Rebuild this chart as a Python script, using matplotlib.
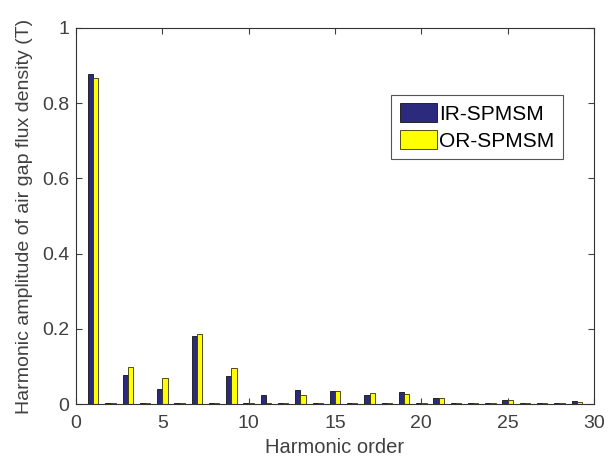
import matplotlib.pyplot as plt
import numpy as np

plt.rcParams['font.family'] = ['Liberation Sans', 'DejaVu Sans']

harmonics = np.arange(1, 30)
ir_spmsm = [0.878, 0.002, 0.076, 0.002, 0.040, 0.002, 0.180, 0.002, 0.075, 0.003,
            0.024, 0.002, 0.038, 0.002, 0.035, 0.002, 0.025, 0.002, 0.032, 0.003,
            0.016, 0.002, 0.003, 0.002, 0.010, 0.002, 0.004, 0.002, 0.007]
or_spmsm = [0.867, 0.002, 0.099, 0.002, 0.069, 0.002, 0.185, 0.002, 0.096, 0.002,
            0.004, 0.002, 0.024, 0.002, 0.035, 0.002, 0.028, 0.002, 0.026, 0.002,
            0.016, 0.002, 0.002, 0.002, 0.011, 0.002, 0.004, 0.002, 0.006]

fig = plt.figure(figsize=(6.08, 4.72), dpi=100)
ax = fig.add_axes([0.125, 0.144, 0.852, 0.797])

w = 0.3
ax.bar(harmonics - w / 2, ir_spmsm, width=w, color='#2b2a7c', edgecolor='#111111',
       linewidth=0.6, label='IR-SPMSM')
ax.bar(harmonics + w / 2, or_spmsm, width=w, color='#ffff00', edgecolor='#333300',
       linewidth=0.6, label='OR-SPMSM')

ax.set_xlim(0, 30)
ax.set_ylim(0, 1)
ax.set_xticks([0, 5, 10, 15, 20, 25, 30])
ax.set_yticks([0, 0.2, 0.4, 0.6, 0.8, 1])
ax.set_yticklabels(['0', '0.2', '0.4', '0.6', '0.8', '1'])
ax.tick_params(direction='in', top=True, right=True, labelsize=14,
               colors='#404040', length=4, width=0.8)
ax.tick_params(axis='x', pad=8)
ax.tick_params(axis='y', pad=5)
for s in ax.spines.values():
    s.set_color('#333333')
    s.set_linewidth(0.8)

ax.set_xlabel('Harmonic order', fontsize=14.5, color='#404040', labelpad=4)
ax.set_ylabel('Harmonic amplitude of air gap flux density (T)', fontsize=14,
              color='#404040', labelpad=6)

leg = ax.legend(loc='upper right', bbox_to_anchor=(0.94, 0.822), borderaxespad=0,
                fontsize=15, fancybox=False, edgecolor='#555555', framealpha=1,
                handlelength=1.8, handleheight=1.05, handletextpad=0.1,
                borderpad=0.4, labelspacing=0.3)
leg.get_frame().set_linewidth(0.8)

fig.savefig('out.png', dpi=100)
